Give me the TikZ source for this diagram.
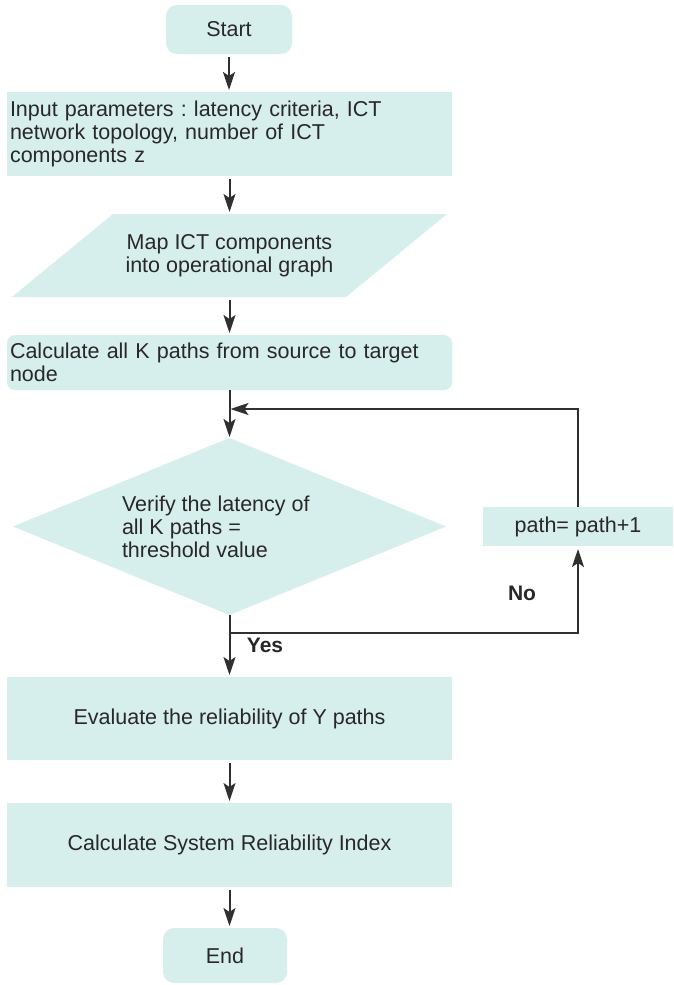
\documentclass[tikz,border=0pt]{standalone}
\usepackage{fontspec}
\setmainfont{Liberation Sans}
\frenchspacing
\usetikzlibrary{arrows.meta,shapes.geometric,backgrounds}
\definecolor{mint}{RGB}{215,239,236}
\definecolor{ink}{RGB}{48,48,48}
\definecolor{txt}{RGB}{40,40,40}
\begin{document}
\begin{tikzpicture}[x=1pt,y=-1pt,
  every node/.style={font=\fontsize{21.5}{23.3}\selectfont, text=txt, inner sep=0pt, outer sep=0pt},
  block/.style={fill=mint, minimum width=445pt, inner xsep=3pt},
  term/.style={fill=mint, rounded corners=11pt},
  arr/.style={draw=ink, line width=2pt, -{Stealth[length=18pt,width=12pt,inset=4pt]}, shorten >=2pt, shorten <=3pt},
  lbl/.style={font=\fontsize{21}{24}\selectfont\bfseries}]
\useasboundingbox (0,0) rectangle (673,985);

% terminals and process boxes
\node[term, minimum width=126pt, minimum height=49pt] (start) at (229,29.5) {Start};
\node[block, minimum height=84pt, text width=439pt, align=left] (input) at (229.5,134)
  {Input parameters : latency criteria, ICT\\network topology, number of ICT\\components z};
\node[minimum width=435pt, minimum height=83pt, align=center] (map) at (229.5,255.5)
  {Map ICT components\\into operational graph};
\node[block, rounded corners=8pt, minimum height=55pt, text width=439pt, align=left] (calc) at (229.5,362.5)
  {Calculate all K paths from source to target\\node};
\node[diamond, fill=mint, minimum width=433pt, minimum height=177pt] (verify) at (229.5,526.5) {};
\node[anchor=west, align=left] (verifytxt) at (122,527)
  {Verify the latency of\\all K paths =\\threshold value};
\node[fill=mint, minimum width=190pt, minimum height=39pt] (incr) at (578,526.5) {path= path+1};
\node[block, minimum height=83pt] (eval) at (229.5,718.5) {Evaluate the reliability of Y paths};
\node[block, minimum height=84pt] (sri) at (229.5,845) {Calculate System Reliability Index};
\node[term, minimum width=124pt, minimum height=55pt] (end) at (225,955.5) {End};

% white page and the parallelogram behind the map text
\begin{scope}[on background layer]
  \fill[white] (0,0) rectangle (673,985);
  \fill[mint] (map.south west) -- ([xshift=101pt]map.north west) -- (map.north east)
    -- ([xshift=-101pt]map.south east) -- cycle;
\end{scope}

% connectors
\draw[arr] (start.south) -- (start.south |- input.north);
\draw[arr] (input.south) -- (input.south |- map.north);
\draw[arr] (map.south) -- (map.south |- calc.north);
\draw[arr, shorten <=0pt, shorten >=1pt] (calc.south) -- (calc.south |- verify.north);
\coordinate (split) at (verify.south |- 0,633);
\coordinate (join) at (verify.north |- 0,409);
\draw[arr, shorten <=0pt] (verify.south) -- (verify.south |- eval.north);
\draw[arr, shorten <=0pt, shorten >=3pt] (split) -| (incr.south);
\draw[arr, shorten <=0pt, shorten >=1pt] (incr.north) |- (join);
\draw[arr] (eval.south) -- (eval.south |- sri.north);
\draw[arr] (sri.south) -- (sri.south |- end.north);

% branch labels
\node[lbl] (no) at (522,593) {No};
\node[lbl] (yes) at (265,645) {Yes};
\end{tikzpicture}
\end{document}
